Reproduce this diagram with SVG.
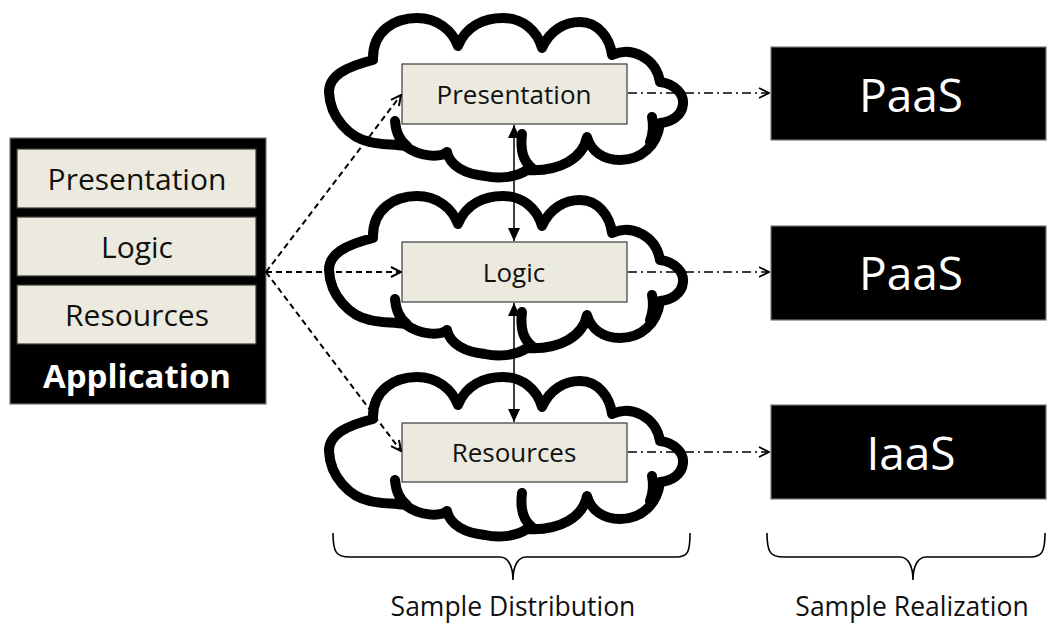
<svg xmlns="http://www.w3.org/2000/svg" width="1050" height="624" viewBox="0 0 1050 624">
  <style>
    .txt { font-family: "Open Sans", "Liberation Sans", sans-serif; fill: #111; text-anchor: middle; }
    .wtxt { font-family: "Open Sans", "Liberation Sans", sans-serif; fill: #fff; text-anchor: middle; }
    .layer { fill: #ECEADF; stroke: #3a3a3a; stroke-width: 1.2; }
    .dark { fill: #000; stroke: #777; stroke-width: 1.2; }
    .cloud { fill: none; stroke: #000; stroke-width: 10; stroke-linejoin: round; stroke-linecap: round; }
    .dash { fill: none; stroke: #000; stroke-width: 2; stroke-dasharray: 6 4; }
    .dashdot { fill: none; stroke: #000; stroke-width: 1.5; stroke-dasharray: 9 4 2 4; }
    .solid { fill: none; stroke: #000; stroke-width: 1.5; }
    .brace { fill: none; stroke: #000; stroke-width: 1.6; }
  </style>
  <defs>
    <marker id="open" markerUnits="userSpaceOnUse" viewBox="0 0 12 12" refX="11" refY="6" markerWidth="12" markerHeight="12" orient="auto">
      <path d="M1,1 L11,6 L1,11" fill="none" stroke="#000" stroke-width="2"/>
    </marker>
    <marker id="openThin" markerUnits="userSpaceOnUse" viewBox="0 0 12 12" refX="11" refY="6" markerWidth="12" markerHeight="12" orient="auto">
      <path d="M1,1 L11,6 L1,11" fill="none" stroke="#000" stroke-width="1.6"/>
    </marker>
    <marker id="filled" markerUnits="userSpaceOnUse" viewBox="0 0 13 12" refX="13" refY="6" markerWidth="13" markerHeight="12" orient="auto-start-reverse">
      <path d="M0,0 L13,6 L0,12 Z" fill="#000"/>
    </marker>
    <g id="cloudShape">
      <path class="cloud" d="M329,92 C329,76 345,67 373,60 C372,30 396,18 417,18 C437,18 452,30 458,46 C466,26 484,18 503,18 C522,18 537,30 542,48 C550,30 565,22 580,22 C598,22 610,38 612,55 C632,46 656,58 660,82 C676,84 684,95 683,104 C682,116 671,122 660,123 C657,146 641,160 620,160 C603,160 591,151 587,137 C583,158 560,172 527,170 C515,178 497,179 485,176 C465,174 450,166 447,152 C440,158 420,157 405,146 C395,144 380,145 370,142 C350,138 330,118 329,92 Z"/>
      <path class="cloud" d="M395,121 C396,133 400,141 407,146"/>
      <path class="cloud" d="M522,134 C520,150 524,162 532,168"/>
      <path class="cloud" d="M652,117 C654,126 653,134 650,142"/>
    </g>
  </defs>

  <!-- application stack -->
  <g id="application">
    <rect class="dark" x="10" y="138" width="256" height="266"/>
    <rect class="layer" x="17" y="149" width="239" height="59"/>
    <text class="txt" x="137" y="190" font-size="30">Presentation</text>
    <rect class="layer" x="17" y="217" width="239" height="59"/>
    <text class="txt" x="137" y="258" font-size="30">Logic</text>
    <rect class="layer" x="17" y="285" width="239" height="59"/>
    <text class="txt" x="137" y="326" font-size="30">Resources</text>
    <text class="wtxt" x="137" y="388" font-size="33" font-weight="bold">Application</text>
  </g>

  <!-- distributed tiers, each in its own cloud -->
  <g id="cloud-presentation">
    <use href="#cloudShape"/>
    <rect class="layer" x="402" y="64" width="225" height="60"/>
    <text class="txt" x="514" y="104" font-size="26">Presentation</text>
  </g>
  <g id="cloud-logic">
    <use href="#cloudShape" transform="translate(0,178)"/>
    <rect class="layer" x="402" y="242" width="225" height="60"/>
    <text class="txt" x="514" y="282" font-size="26">Logic</text>
  </g>
  <g id="cloud-resources">
    <use href="#cloudShape" transform="translate(0,359)"/>
    <rect class="layer" x="402" y="423" width="225" height="59"/>
    <text class="txt" x="514" y="462" font-size="26">Resources</text>
  </g>

  <!-- service models -->
  <g id="paas-1">
    <rect class="dark" x="771" y="47" width="275" height="93"/>
    <text class="wtxt" x="911" y="112" font-size="46">PaaS</text>
  </g>
  <g id="paas-2">
    <rect class="dark" x="771" y="226" width="275" height="94"/>
    <text class="wtxt" x="911" y="290" font-size="46">PaaS</text>
  </g>
  <g id="iaas">
    <rect class="dark" x="771" y="405" width="275" height="94"/>
    <text class="wtxt" x="911" y="470" font-size="46">IaaS</text>
  </g>

  <!-- connectors -->
  <g id="connectors">
    <path class="dash" d="M266,272 L401,95" marker-end="url(#open)"/>
    <path class="dash" d="M266,272 L401,272" marker-end="url(#open)"/>
    <path class="dash" d="M266,272 L401,451" marker-end="url(#open)"/>
    <path class="dashdot" d="M628,93 L769,93" marker-end="url(#openThin)"/>
    <path class="dashdot" d="M628,272 L769,272" marker-end="url(#openThin)"/>
    <path class="dashdot" d="M628,452 L769,452" marker-end="url(#openThin)"/>
    <path class="solid" d="M514,125 L514,241" marker-start="url(#filled)" marker-end="url(#filled)"/>
    <path class="solid" d="M514,303 L514,422" marker-start="url(#filled)" marker-end="url(#filled)"/>
  </g>

  <!-- group braces and captions -->
  <g id="brace-distribution">
    <path class="brace" d="M333,533 C333,552 336,557 350,557 L500,557 C508,557 513,566 513,580 C513,566 518,557 526,557 L676,557 C688,557 690,552 690,533"/>
    <text class="txt" x="513" y="616" font-size="26.5">Sample Distribution</text>
  </g>
  <g id="brace-realization">
    <path class="brace" d="M767,533 C767,552 770,557 784,557 L900,557 C908,557 913,566 913,580 C913,566 918,557 926,557 L1030,557 C1042,557 1045,552 1045,533"/>
    <text class="txt" x="912" y="616" font-size="26.5">Sample Realization</text>
  </g>
</svg>
